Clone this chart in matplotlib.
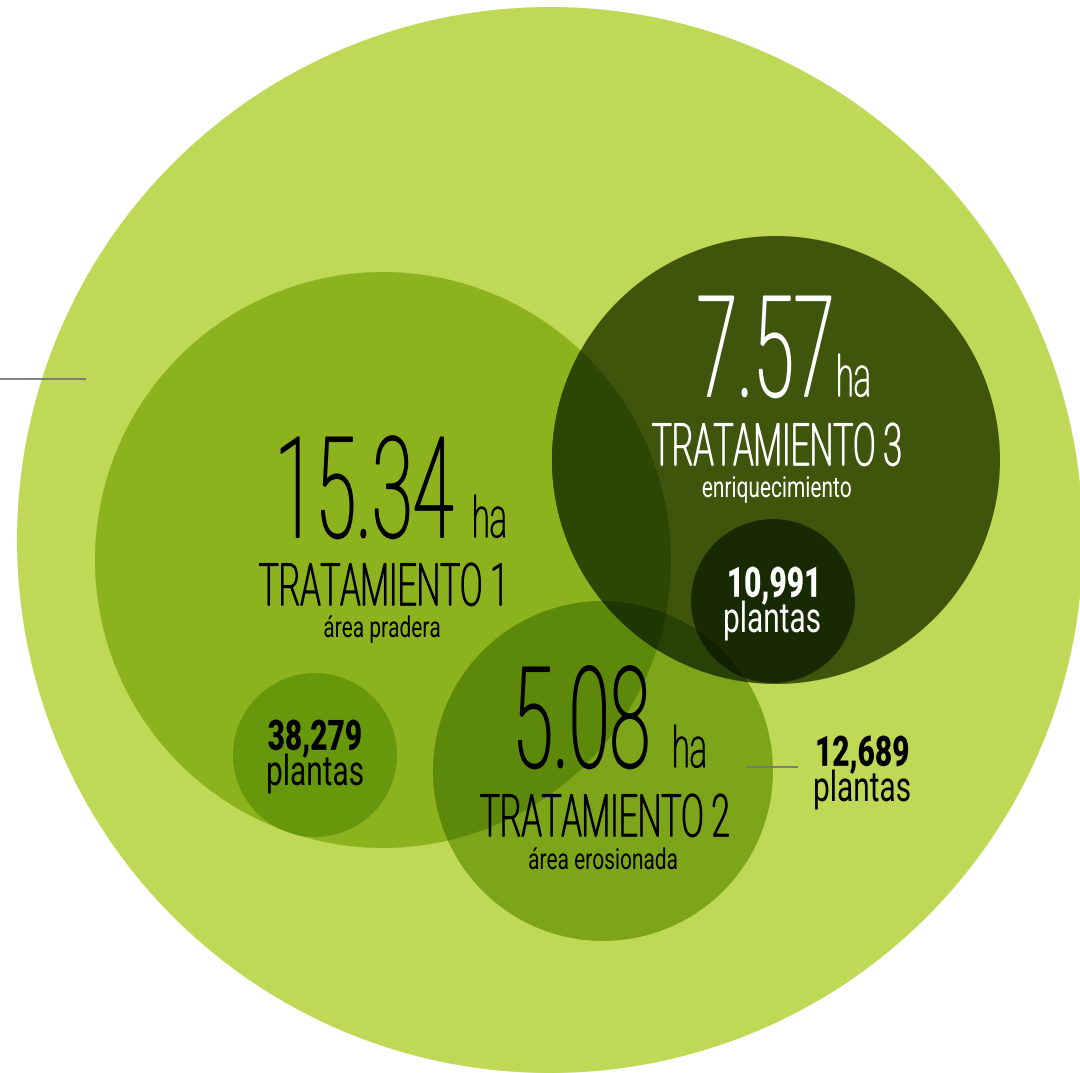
import itertools

import matplotlib
matplotlib.use("Agg")
import matplotlib.pyplot as plt
import numpy as np
from matplotlib.colors import to_rgb
from matplotlib.patches import Polygon
from matplotlib.patheffects import AbstractPathEffect
from matplotlib.text import Text
from matplotlib.transforms import Affine2D, Bbox

plt.rcParams["mathtext.fontset"] = "custom"
plt.rcParams["mathtext.bf"] = "Roboto:black"
plt.rcParams["mathtext.rm"] = "Roboto"

# ---- data -------------------------------------------------------------
treatments = ["TRATAMIENTO 1", "TRATAMIENTO 2", "TRATAMIENTO 3"]
subtitles = ["área pradera", "área erosionada", "enriquecimiento"]
hectares = [15.34, 5.08, 7.57]
plants = [38279, 12689, 10991]

# ---- layout (canvas pixels, y grows downward) -------------------------
W, H = 1080, 1073

# discs, stacked bottom to top; each tints what lies beneath it (multiply)
discs = [
    ((550, 540), 533, "#BFD855"),   # whole site
    ((383, 560), 288, "#BBD35A"),   # tratamiento 1
    ((776, 460), 224, "#546424"),   # tratamiento 3
    ((603, 771), 170, "#A7C34B"),   # tratamiento 2
    ((315, 755), 82, "#BCD855"),    # plantas tratamiento 1
    ((773, 601), 82, "#617E40"),    # plantas tratamiento 3
]

area_text_color = ["black", "black", "white"]
num_right = [(454, 537), (653, 767), (838, 396)]   # right edge of the figure
ha_left = [(470, 537), (670, 767), (834, 396)]     # left edge of "ha"
title_pos = [(386, 605), (605, 836), (777, 465)]
sub_pos = [(382, 637), (603, 869), (777, 497)]

plant_pos = [(315, 785), (862, 801), (772, 632)]   # baseline of "plantas"
plant_text_color = ["black", "black", "white"]

PX = 72 / 100  # points per pixel at dpi=100


class Condense(AbstractPathEffect):
    """Squeeze glyph outlines horizontally towards an anchor edge (or the
    centre), optionally thickening them with a same-colour outline."""

    def __init__(self, sx=0.55, thicken=0.0, anchor="center"):
        super().__init__()
        self.sx = sx
        self.thicken = thicken
        self.anchor = anchor

    def draw_path(self, renderer, gc, tpath, affine, rgbFace=None):
        ext = tpath.get_extents()
        ax_ = {"left": ext.x0, "right": ext.x1}.get(self.anchor, 0.5 * (ext.x0 + ext.x1))
        tr = Affine2D().translate(-ax_, 0).scale(self.sx, 1).translate(ax_, 0) + affine
        if self.thicken > 0:
            gc0 = renderer.new_gc()
            gc0.copy_properties(gc)
            gc0.set_linewidth(self.thicken)
            gc0.set_foreground(rgbFace)
            gc0.set_joinstyle("round")
            renderer.draw_path(gc0, tpath, tr, rgbFace)
            gc0.restore()
        else:
            renderer.draw_path(gc, tpath, tr, rgbFace)


class CondensedText(Text):
    """Text drawn in a condensed form, with an extent to match."""

    def __init__(self, *args, squeeze=0.55, thicken=0.0, **kwargs):
        super().__init__(*args, **kwargs)
        self._squeeze = squeeze
        self.set_path_effects([Condense(squeeze, thicken, self.get_ha())])

    def get_window_extent(self, renderer=None, dpi=None):
        bb = super().get_window_extent(renderer, dpi)
        w = bb.width * self._squeeze
        ha = self.get_ha()
        if ha == "left":
            return Bbox.from_extents(bb.x0, bb.y0, bb.x0 + w, bb.y1)
        if ha == "right":
            return Bbox.from_extents(bb.x1 - w, bb.y0, bb.x1, bb.y1)
        cx = 0.5 * (bb.x0 + bb.x1)
        return Bbox.from_extents(cx - w / 2, bb.y0, cx + w / 2, bb.y1)


def label(ax, xy, s, size_px, color, weight="regular", sx=0.55, thicken=0.0,
          ha="center", linespacing=1.2):
    t = CondensedText(xy[0], xy[1], s, fontsize=size_px * PX, color=color,
                      family="Roboto", fontweight=weight, ha=ha,
                      va="baseline", squeeze=sx, thicken=thicken,
                      linespacing=linespacing)
    ax.add_artist(t)
    return t


def circle_pts(c, r, n=2880):
    t = np.linspace(0, 2 * np.pi, n, endpoint=False)
    return np.column_stack([c[0] + r * np.cos(t), c[1] + r * np.sin(t)])


def disc_intersection(idxs):
    """Outline of the region common to the given discs (convex)."""
    pts = []
    for i in idxs:
        p = circle_pts(*discs[i][:2])
        keep = np.ones(len(p), bool)
        for j in idxs:
            if j != i:
                cj, rj = discs[j][:2]
                keep &= np.hypot(p[:, 0] - cj[0], p[:, 1] - cj[1]) <= rj
        pts.append(p[keep])
    pts = np.vstack(pts)
    if len(pts) < 3:
        return None
    ctr = pts.mean(axis=0)
    order = np.argsort(np.arctan2(pts[:, 1] - ctr[1], pts[:, 0] - ctr[0]))
    return pts[order]


fig = plt.figure(figsize=(W / 100, H / 100), dpi=100)
ax = fig.add_axes([0, 0, 1, 1])
ax.set_xlim(0, W)
ax.set_ylim(H, 0)
ax.axis("off")

# paint every overlap region with the product of the tints covering it;
# regions are painted from fewer to more discs so the deepest one wins
others = list(range(1, len(discs)))
for k in range(0, len(others) + 1):
    for combo in itertools.combinations(others, k):
        idxs = [0, *combo]
        poly = disc_intersection(idxs)
        if poly is None:
            continue
        col = np.prod([to_rgb(discs[i][2]) for i in idxs], axis=0)
        ax.add_patch(Polygon(poly, closed=True, facecolor=col, lw=0))

# leader lines
ax.plot([0, 86], [379, 379], color="#777777", lw=1.3, solid_capstyle="butt")
ax.plot([746, 798], [767, 767], color="#777777", lw=1.3, solid_capstyle="butt")

for i in range(3):
    tc = area_text_color[i]
    label(ax, num_right[i], f"{hectares[i]:.2f}", 140, tc, weight="light",
          sx=0.53, thicken=1.4, ha="right")
    label(ax, ha_left[i], "ha", 56, tc, weight="light", sx=0.58,
          thicken=0.9, ha="left")
    label(ax, title_pos[i], treatments[i], 58, tc, weight="light", sx=0.575,
          thicken=1.2)
    label(ax, sub_pos[i], subtitles[i], 29, tc, weight="regular", sx=0.72)

for i in range(3):
    count = f"{plants[i]:,}".replace(",", "{,}")
    label(ax, plant_pos[i], "$\\mathbf{" + count + "}$\nplantas", 42,
          plant_text_color[i], weight="regular", sx=0.71, linespacing=0.76)

fig.savefig("out.png", dpi=100, facecolor="white")
